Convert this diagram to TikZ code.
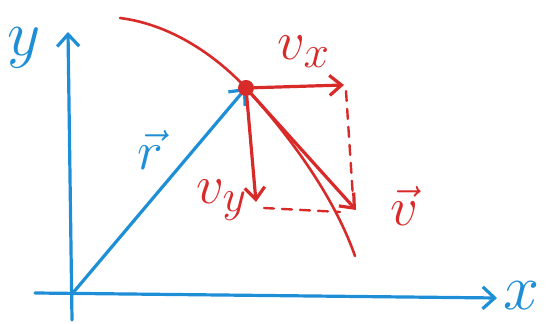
\documentclass[tikz,border=0pt]{standalone}
\usetikzlibrary{arrows.meta}
\definecolor{penblue}{HTML}{1E8ED6}
\definecolor{penred}{HTML}{D92A2A}
\tikzset{
  pen/.style      = {line width=1.6pt, line cap=round, line join=round},
  axis/.style     = {pen, draw=penblue, -{Straight Barb[length=6pt, width=11pt, line width=1.6pt]}},
  radius/.style   = {axis},
  vel/.style      = {pen, draw=penred, -{Straight Barb[length=6pt, width=10pt, line width=1.6pt]}},
  veldash/.style  = {pen, draw=penred, line width=1.2pt, dash pattern=on 5pt off 4pt},
  path/.style     = {pen, draw=penred, line width=1.3pt},
  particle/.style = {circle, fill=penred, inner sep=0pt, minimum size=8pt},
  bluetxt/.style  = {text=penblue, inner sep=0pt, font=\Huge},
  redtxt/.style   = {text=penred, inner sep=0pt, font=\Huge},
}

\begin{document}
\begin{tikzpicture}[x=0.5pt, y=-0.5pt]
  \useasboundingbox (0,0) rectangle (550,324);

  % axes
  \coordinate (O) at (72,294);
  \coordinate (ybot) at (72,320);
  \coordinate (ytop) at (68,32);
  \coordinate (xleft) at (35,293);
  \coordinate (xright) at (497,298);
  \draw[axis] (ybot) -- (ytop);
  \draw[axis] (xleft) -- (xright);
  \node[bluetxt, scale=1.3] (ylabel) at (24,48) {$y$};
  \node[bluetxt, scale=1.3] (xlabel) at (521,296) {$x$};

  % trajectory
  \coordinate (start) at (120,18);
  \coordinate (P) at (246,88);
  \coordinate (end) at (355,256);
  \draw[path] (start) .. controls (175,25) and (220,60) .. (P)
                      .. controls (275,120) and (330,185) .. (end);

  % position vector
  \draw[radius] (O) -- (P);
  \node[bluetxt, scale=1.1] (rlabel) at (150,150) {$\vec{r}$};

  \node[particle] (dot) at (P) {};

  % velocity and its components
  \coordinate (vx) at (344,85);
  \coordinate (vy) at (256,202);
  \coordinate (v) at (356,210);
  \draw[vel] (dot) -- (vx);
  \draw[vel] (dot) -- (vy);
  \draw[vel] (dot) -- (v);
  \draw[veldash] (vx) ++(2,6) -- ([shift={(-3,-12)}]v);
  \draw[veldash] (vy) ++(8,6) -- ([shift={(-16,2)}]v);

  \node[redtxt, scale=1.1] (vxlabel) at (304,52) {$v_x$};
  \node[redtxt, scale=1.1] (vylabel) at (222,200) {$v_y$};
  \node[redtxt, scale=1.1] (vlabel) at (404,206) {$\vec{v}$};
\end{tikzpicture}
\end{document}
